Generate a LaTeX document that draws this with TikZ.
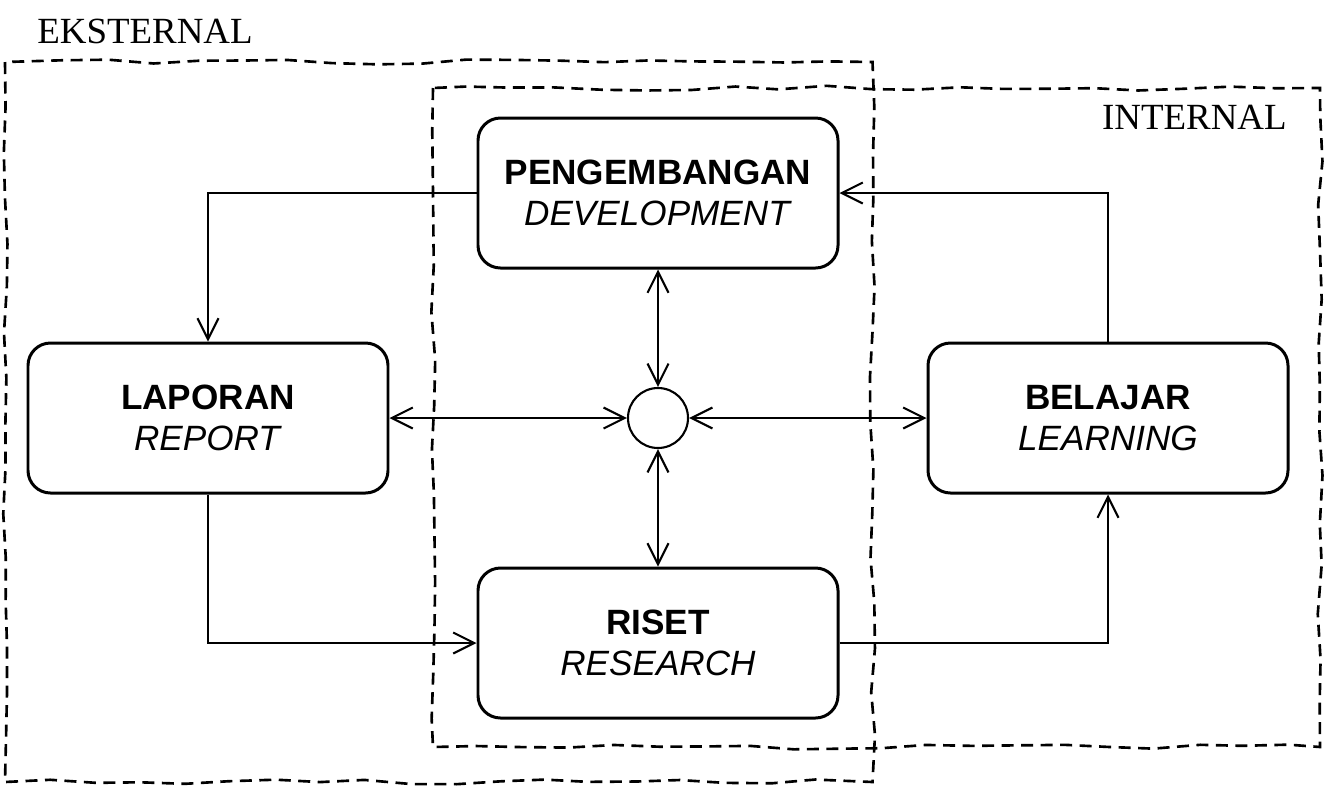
\documentclass[tikz,border=0pt]{standalone}
\usepackage{fontspec}
\setmainfont{Liberation Serif}
\setsansfont{Liberation Sans}
\usetikzlibrary{arrows.meta,decorations.pathmorphing}
\tikzset{
  blok/.style={draw,line width=1.7pt,rounded corners=0.45cm,minimum width=7.2cm,minimum height=3cm,align=center,font=\sffamily\fontsize{20}{23}\selectfont},
  batas/.style={line width=1.5pt,dash pattern=on 0.24cm off 0.15cm,decorate,decoration={random steps,segment length=0.9cm,amplitude=0.05cm}},
  panah/.style={line width=1.2pt},
  judul/.style={inner sep=0pt,font=\fontsize{21}{25}\selectfont}
}
\begin{document}
\begin{tikzpicture}[>={Straight Barb[length=0.42cm,width=0.42cm]}]
  \useasboundingbox (0,0) rectangle (26.52,-15.72);
  \pgfmathsetseed{7}
  \draw[batas] (0.1,-1.24) rectangle (17.45,-15.64);
  \draw[batas] (8.66,-1.76) rectangle (26.4,-14.94);
  \node[judul,anchor=base west] (eks) at (0.74,-0.86) {EKSTERNAL};
  \node[judul,anchor=base east] (int) at (25.74,-2.58) {INTERNAL};
  \node[blok] (peng) at (13.16,-3.86) {\textbf{PENGEMBANGAN}\\\textit{DEVELOPMENT}};
  \node[blok] (lap) at (4.16,-8.36) {\textbf{LAPORAN}\\\textit{REPORT}};
  \node[blok] (bel) at (22.16,-8.36) {\textbf{BELAJAR}\\\textit{LEARNING}};
  \node[blok] (ris) at (13.16,-12.86) {\textbf{RISET}\\\textit{RESEARCH}};
  \node[draw,circle,line width=1.2pt,minimum size=1.2cm,inner sep=0pt] (pusat) at (13.16,-8.36) {};
  \draw[panah,->] (peng.west) -| (lap.north);
  \draw[panah,->] (lap.south) |- (ris.west);
  \draw[panah,->] (ris.east) -| (bel.south);
  \draw[panah,->] (bel.north) |- (peng.east);
  \foreach \n in {peng,lap,bel,ris}{\draw[panah,<->] (pusat) -- (\n);}
\end{tikzpicture}
\end{document}
